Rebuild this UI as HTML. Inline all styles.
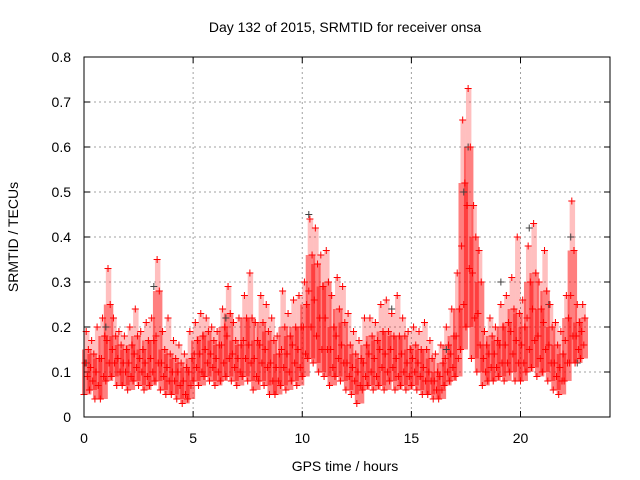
<!DOCTYPE html>
<html><head><meta charset="utf-8"><style>
body{margin:0;background:#fff;}
svg{display:block;font-family:"Liberation Sans",sans-serif;}
</style></head><body>
<svg id="chart" width="640" height="480" viewBox="0 0 640 480">
<text x="345" y="32" font-size="14" text-anchor="middle" fill="#000">Day 132 of 2015, SRMTID for receiver onsa</text>
<text transform="translate(18,237) rotate(-90)" font-size="14" text-anchor="middle" fill="#000">SRMTID / TECUs</text>
<text x="345" y="471" font-size="14" text-anchor="middle" fill="#000">GPS time / hours</text>
<g id="grid"></g>
<g id="ticks"></g>
<g id="bands"></g>
<g id="pts"></g>
<rect x="84" y="57" width="526" height="360" fill="none" stroke="#000" stroke-width="1"/>
</svg>
<script>
const xTicks=[0,5,10,15,20];
const yTicks=[0,0.1,0.2,0.3,0.4,0.5,0.6,0.7,0.8];
const yTickLabels=["0","0.1","0.2","0.3","0.4","0.5","0.6","0.7","0.8"];
const slotStep=0.25;
const redSlots=[
[.05,.09,.12,.15,.19],[.06,.08,.11,.14,.17],[.04,.07,.10,.13,.20],[.04,.09,.13,.18,.22],
[.08,.12,.17,.25,.33],[.09,.12,.15,.18,.22],[.07,.10,.13,.16,.19],[.07,.10,.12,.15,.18],
[.06,.09,.12,.16,.20],[.08,.11,.14,.18,.24],[.07,.10,.13,.15,.19],[.06,.09,.12,.17,.21],
[.07,.10,.13,.17,.22],[.08,.12,.18,.28,.35],[.06,.09,.12,.15,.19],[.05,.08,.11,.14,.22],
[.05,.08,.10,.13,.17],[.04,.07,.10,.12,.16],[.03,.05,.08,.11,.14],[.04,.07,.10,.13,.19],
[.08,.11,.14,.17,.21],[.07,.10,.14,.18,.23],[.09,.12,.15,.19,.22],[.08,.11,.14,.17,.20],
[.07,.10,.13,.16,.19],[.08,.12,.16,.20,.24],[.09,.13,.18,.23,.29],[.08,.11,.14,.17,.21],
[.07,.10,.13,.16,.22],[.09,.13,.17,.22,.27],[.08,.12,.16,.22,.32],[.06,.09,.13,.17,.21],
[.08,.12,.16,.21,.27],[.07,.11,.15,.19,.25],[.05,.08,.12,.17,.22],[.05,.08,.11,.14,.18],
[.07,.11,.15,.20,.28],[.06,.10,.14,.18,.23],[.08,.12,.16,.20,.26],[.07,.11,.15,.20,.27],
[.09,.14,.20,.25,.30],[.13,.20,.28,.36,.44],[.12,.18,.26,.34,.42],[.10,.15,.22,.29,.36],
[.09,.15,.22,.30,.37],[.07,.11,.15,.20,.27],[.09,.13,.18,.24,.31],[.08,.12,.16,.21,.29],
[.06,.09,.12,.16,.23],[.05,.08,.11,.14,.19],[.03,.07,.10,.13,.17],[.06,.09,.12,.16,.22],
[.07,.10,.14,.18,.22],[.06,.09,.13,.17,.21],[.07,.11,.15,.19,.25],[.06,.10,.14,.19,.26],
[.08,.11,.15,.18,.23],[.06,.09,.13,.18,.27],[.07,.10,.14,.18,.22],[.06,.09,.12,.15,.19],
[.07,.10,.13,.16,.20],[.06,.09,.12,.15,.19],[.05,.08,.11,.15,.21],[.05,.08,.10,.13,.17],
[.04,.06,.08,.10,.14],[.04,.06,.09,.12,.16],[.07,.10,.13,.16,.20],[.08,.11,.14,.18,.24],
[.09,.13,.18,.24,.32],[.15,.25,.38,.52,.66],[.20,.33,.47,.60,.73],[.13,.22,.32,.40,.47],
[.10,.16,.23,.30,.37],[.07,.10,.13,.16,.19],[.08,.11,.14,.18,.22],[.08,.11,.14,.17,.20],
[.09,.12,.16,.20,.25],[.08,.12,.16,.21,.27],[.10,.14,.19,.24,.31],[.08,.12,.17,.23,.40],
[.08,.12,.16,.20,.26],[.10,.15,.22,.30,.38],[.11,.17,.24,.32,.43],[.09,.13,.18,.24,.30],
[.10,.15,.21,.28,.37],[.08,.12,.16,.20,.25],[.06,.09,.12,.16,.21],[.05,.08,.11,.14,.19],
[.08,.12,.17,.22,.27],[.12,.18,.27,.37,.48],[.12,.15,.18,.21,.25],[.13,.16,.19,.22,.25]
];
const blackTimes=[0.1,1.0,3.2,6.5,10.3,11.2,14.1,16.6,17.4,17.6,19.1,20.4,21.3,22.3,22.6];
const blackValues=[0.12,0.2,0.29,0.22,0.45,0.3,0.24,0.15,0.5,0.6,0.3,0.42,0.25,0.4,0.12];
const X0=84,X1=610,Y0=417,Y1=57;
const xs=t=>X0+t*(X1-X0)/24.1;
const ys=v=>Y0-v*(Y0-Y1)/0.8;
const NS="http://www.w3.org/2000/svg";
function mk(tag,attrs,parent){const e=document.createElementNS(NS,tag);for(const k in attrs)e.setAttribute(k,attrs[k]);parent.appendChild(e);return e;}
const grid=document.getElementById('grid'),ticks=document.getElementById('ticks'),pts=document.getElementById('pts'),bands=document.getElementById('bands');
xTicks.forEach(t=>{
  const x=xs(t);
  if(t>0){const g=mk('line',{x1:x,x2:x,y1:Y1,y2:Y0,stroke:'#a0a0a0','stroke-dasharray':'2,3'},grid);
  
  }
  mk('line',{x1:x,x2:x,y1:Y0,y2:Y0-6,stroke:'#000'},ticks);
  mk('line',{x1:x,x2:x,y1:Y1,y2:Y1+6,stroke:'#000'},ticks);
  const l=mk('text',{x:x,y:443,'font-size':14,'text-anchor':'middle'},ticks);
  l.textContent=String(t);
  
  
});
yTicks.forEach((v,i)=>{
  const y=ys(v);
  if(i>0&&i<yTicks.length-1){const g=mk('line',{x1:X0,x2:X1,y1:y,y2:y,stroke:'#a0a0a0','stroke-dasharray':'2,3'},grid);
  
  }
  mk('line',{x1:X0,x2:X0+6,y1:y,y2:y,stroke:'#000'},ticks);
  mk('line',{x1:X1,x2:X1-6,y1:y,y2:y,stroke:'#000'},ticks);
  const l=mk('text',{x:71,y:y+5,'font-size':14,'text-anchor':'end'},ticks);
  l.textContent=yTickLabels[i];
  
  
});
function plus(t,v,col){
  const x=xs(t),y=ys(v);
  const p=mk('path',{d:`M${x-3.5},${y}h7M${x},${y-3.5}v7`,stroke:col,'stroke-width':1,fill:'none'},pts);
  
  
}
redSlots.forEach((vals,s)=>{
  const xa=xs(s*slotStep)-2,xb=xs((s+1)*slotStep)+2;
  const b=mk('rect',{x:xa,y:ys(vals[3]),width:xb-xa,height:ys(vals[0])-ys(vals[3]),fill:'#ff0000','fill-opacity':0.5},bands);
  
  
  const b2=mk('rect',{x:xa+2,y:ys(vals[4]),width:xb-xa-4,height:ys(vals[3])-ys(vals[4]),fill:'#ff0000','fill-opacity':0.25},bands);
  
  
});
blackTimes.forEach((t,i)=>plus(t,blackValues[i],'#404040'));
redSlots.forEach((vals,s)=>{
  vals.forEach((v,j)=>{
    const order=[0,3,1,4,2][j];
    plus(s*slotStep+order*slotStep/5,v,'#ff0000');
  });
});
</script>
</body></html>
